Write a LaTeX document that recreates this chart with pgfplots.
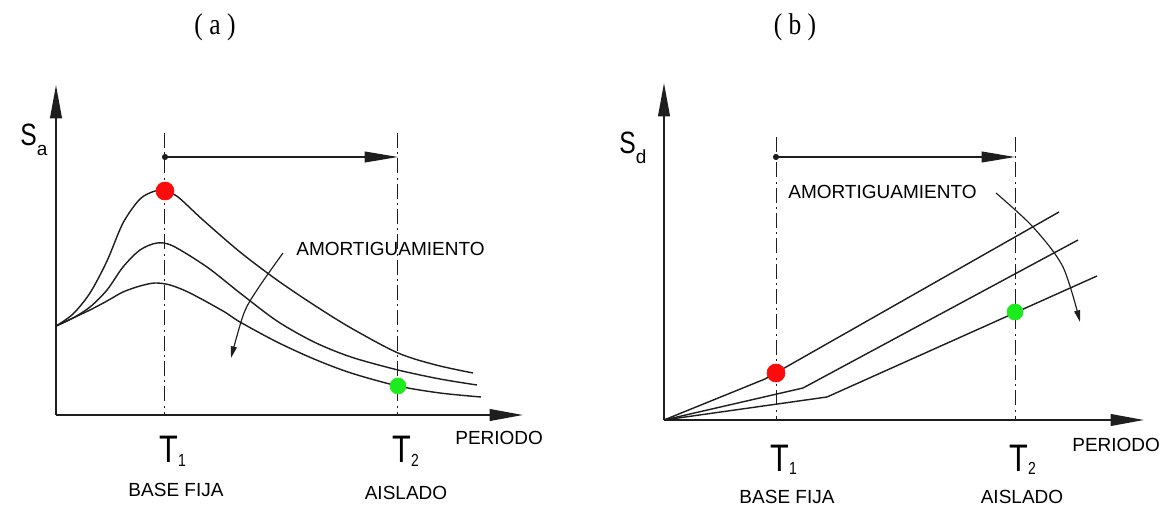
\documentclass[border=0pt]{standalone}
\usepackage{fontspec}
\setmainfont{Liberation Sans}
\newfontfamily\condfont[FakeStretch=0.8]{Liberation Sans}
\newfontfamily\titlefont[FakeStretch=0.85]{Liberation Serif}
\usepackage{pgfplots}
\pgfplotsset{compat=1.18}
\usetikzlibrary{arrows.meta}
\definecolor{dotred}{RGB}{250,12,12}
\definecolor{dotgreen}{RGB}{30,235,30}
\definecolor{ink}{RGB}{30,30,30}

% 1 px of the reference = 0.6pt; data units are px measured from each origin
\pgfplotsset{
  panel/.style={scale only axis, width=300pt, height=204pt,
    xmin=0, xmax=500, ymin=0, ymax=340, hide axis, clip=false},
  curve/.style={ink, line width=0.85pt, no marks},
  axisline/.style={ink, line width=1.1pt, no marks, -{Triangle[length=20pt,width=7pt]}},
  hline/.style={ink, line width=0.7pt, no marks, -{Triangle[length=20pt,width=6.5pt]}},
  guide/.style={ink, line width=0.6pt, no marks, dash pattern=on 9pt off 2.5pt on 1.2pt off 2.5pt},
  bend/.style={ink, line width=0.7pt, no marks, smooth, -{Triangle[length=7pt,width=3.6pt]}},
}
\newcommand\lab{\fontsize{11.4}{13}\selectfont}
\newcommand\Tlab[1]{{\condfont\fontsize{23}{26}\selectfont T}\raisebox{-2pt}{\condfont\fontsize{10.5}{12}\selectfont #1}}
\newcommand\Slab[1]{{\condfont\fontsize{18.5}{22}\selectfont S}\raisebox{-6pt}{\fontsize{11.4}{13}\selectfont #1}}

\begin{document}
\begin{tikzpicture}
\path[use as bounding box] (0,0) rectangle (699.6pt,305.4pt);

\node at (129pt,289.2pt) {\titlefont\fontsize{18}{20}\selectfont ( a )};
\node at (477pt,289.2pt) {\titlefont\fontsize{18}{20}\selectfont ( b )};

% ---- (a) acceleration spectrum
\begin{axis}[panel, at={(33.6pt,56.4pt)}, anchor=south west]
\addplot[axisline] coordinates {(0,0) (0,330)};
\addplot[axisline] coordinates {(0,0) (467,0)};
\addplot[guide] coordinates {(109,282) (109,0)};
\addplot[guide] coordinates {(342,282) (342,0)};
\addplot[hline] coordinates {(109,258) (342,258)};
\addplot[only marks, mark=*, mark size=1.6pt, ink] coordinates {(109,258)};

\addplot[curve, smooth] coordinates {
 (0,89) (17,101) (34,122) (51,154) (67,192) (84,216) (99,224) (109,224)
 (122,218) (147,195) (184,163) (221,135) (258,110) (295,87) (342,62) (380,50) (417,42)};
\addplot[curve, smooth] coordinates {
 (0,89) (17,97) (34,108) (51,125) (67,148) (84,165) (101,172) (117,169)
 (151,148) (184,122) (221,94) (258,73) (295,58) (342,45) (384,36) (421,30)};
\addplot[curve, smooth] coordinates {
 (0,89) (17,97) (34,105) (51,114) (67,123) (84,129) (99,132) (114,130)
 (134,122) (167,104) (184,93) (221,73) (258,56) (295,42) (342,29) (384,22) (425,18)};

\addplot[only marks, mark=*, mark size=5.4pt, mark options={draw=dotred, fill=dotred}] coordinates {(109,224)};
\addplot[only marks, mark=*, mark size=4.8pt, mark options={draw=dotgreen, fill=dotgreen}] coordinates {(342,29)};

\addplot[bend] coordinates {(227,162) (203,128) (188,102) (175,57)};

\node[anchor=west, inner sep=0] at (axis cs:240,166) {\lab AMORTIGUAMIENTO};
\node[anchor=west, inner sep=0] at (axis cs:399,-23) {\lab PERIODO};
\node[anchor=base west, inner sep=0] at (axis cs:-36,270) {\Slab{a}};
\node[anchor=base west, inner sep=0] at (axis cs:103,-48) {\Tlab{1}};
\node[anchor=base west, inner sep=0] at (axis cs:336,-48) {\Tlab{2}};
\node[inner sep=0] at (axis cs:120,-75) {\lab BASE FIJA};
\node[inner sep=0] at (axis cs:350,-78) {\lab AISLADO};
\end{axis}

% ---- (b) displacement spectrum
\begin{axis}[panel, at={(398.4pt,53.4pt)}, anchor=south west]
\addplot[axisline] coordinates {(0,0) (0,337)};
\addplot[axisline] coordinates {(0,0) (480,0)};
\addplot[guide] coordinates {(112,283) (112,0)};
\addplot[guide] coordinates {(351,283) (351,0)};
\addplot[hline] coordinates {(112,263) (351,263)};
\addplot[only marks, mark=*, mark size=1.6pt, ink] coordinates {(112,263)};

\addplot[curve] coordinates {(0,0) (101,41) (395,208)};
\addplot[curve] coordinates {(0,0) (139,32) (414,180)};
\addplot[curve] coordinates {(0,0) (163,23) (433,144)};

\addplot[only marks, mark=*, mark size=5.4pt, mark options={draw=dotred, fill=dotred}] coordinates {(112,47)};
\addplot[only marks, mark=*, mark size=4.8pt, mark options={draw=dotgreen, fill=dotgreen}] coordinates {(351,108)};

\addplot[bend] coordinates {(332,227) (369,193) (399,153) (416,98)};

\node[anchor=west, inner sep=0] at (axis cs:124,228) {\lab AMORTIGUAMIENTO};
\node[anchor=west, inner sep=0] at (axis cs:408,-25) {\lab PERIODO};
\node[anchor=base west, inner sep=0] at (axis cs:-45,267) {\Slab{d}};
\node[anchor=base west, inner sep=0] at (axis cs:106,-51) {\Tlab{1}};
\node[anchor=base west, inner sep=0] at (axis cs:345,-51) {\Tlab{2}};
\node[inner sep=0] at (axis cs:123,-77) {\lab BASE FIJA};
\node[inner sep=0] at (axis cs:358,-77) {\lab AISLADO};
\end{axis}
\end{tikzpicture}
\end{document}
